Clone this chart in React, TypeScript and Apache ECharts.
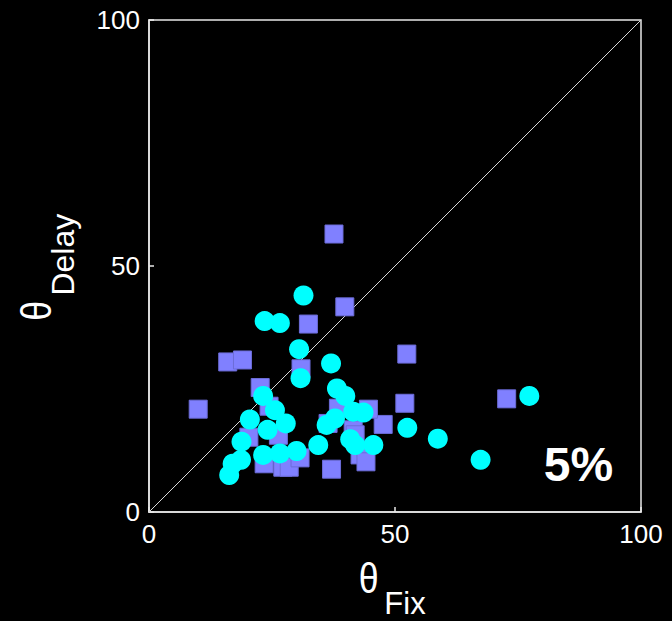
import React, { useEffect, useRef } from "react";
import * as echarts from "echarts";

// Purple squares: (θFix, θDelay)
const squareFix = [37.6, 39.8, 32.4, 52.4, 16.0, 19.0, 30.9, 10.0, 22.6, 72.7, 52.0, 47.6, 44.6, 38.5, 36.4, 41.5, 42.9, 44.1, 37.1, 20.3, 23.4, 27.2, 28.5, 30.7, 41.9, 24.4, 26.3];
const squareDelay = [56.5, 41.7, 38.2, 32.1, 30.5, 30.9, 29.1, 20.9, 25.3, 23.0, 22.1, 17.8, 20.9, 21.1, 18.0, 16.7, 11.6, 10.2, 8.7, 15.2, 9.8, 9.1, 9.1, 11.0, 15.7, 21.5, 15.6];

// Cyan circles: (θFix, θDelay)
const circleFix = [31.4, 23.5, 26.6, 30.5, 37.0, 30.8, 23.2, 25.6, 20.5, 27.8, 24.1, 18.8, 23.2, 26.6, 30.0, 18.7, 17.0, 16.3, 34.4, 38.2, 39.9, 41.5, 43.6, 37.8, 36.1, 40.9, 41.9, 45.6, 52.5, 58.7, 67.4, 77.3];
const circleDelay = [44.0, 38.8, 38.4, 33.1, 30.2, 27.2, 23.6, 20.7, 18.8, 18.0, 16.7, 14.3, 11.6, 11.9, 12.4, 10.6, 9.8, 7.5, 13.6, 25.1, 23.6, 20.4, 20.2, 19.0, 17.7, 14.8, 13.6, 13.6, 17.1, 14.9, 10.6, 23.6];

const axisMin = 0;
const axisMax = 100;
const axisStep = 50;
const diagonal = [[0, 0], [100, 100]];
const percentLabel = "5%";

const FONT = "'Liberation Sans', Arial, sans-serif";

export default function App() {
  const ref = useRef<HTMLDivElement>(null);

  useEffect(() => {
    if (!ref.current) return;
    document.body.style.margin = "0";
    document.body.style.background = "#000";
    const chart = echarts.init(ref.current, undefined, { renderer: "svg" });

    const squares = squareFix.map((x, i) => [x, squareDelay[i]]);
    const circles = circleFix.map((x, i) => [x, circleDelay[i]]);

    const axisCommon = {
      type: "value" as const,
      min: axisMin,
      max: axisMax,
      interval: axisStep,
      splitLine: { show: false },
      axisLine: { show: true, lineStyle: { color: "#e8e8e8", width: 1.5 } },
      axisTick: { show: true, inside: true, length: 5, lineStyle: { color: "#e8e8e8", width: 1.5 } },
      axisLabel: { color: "#ffffff", fontSize: 26, fontFamily: FONT },
    };

    const centered = { align: "center", verticalAlign: "middle", textAlign: "center", textVerticalAlign: "middle" };

    chart.setOption({
      animation: false,
      backgroundColor: "#000000",
      grid: {
        left: 149,
        right: 31,
        top: 20,
        bottom: 109,
        show: true,
        borderColor: "#e8e8e8",
        borderWidth: 1.5,
        backgroundColor: "transparent",
      },
      xAxis: { ...axisCommon, axisLabel: { ...axisCommon.axisLabel, margin: 9 } },
      yAxis: { ...axisCommon, axisLabel: { ...axisCommon.axisLabel, margin: 9 } },
      series: [
        {
          type: "line",
          data: diagonal,
          showSymbol: false,
          symbol: "none",
          lineStyle: { color: "#d8d8d8", width: 1 },
          z: 1,
          silent: true,
        },
        {
          type: "scatter",
          data: squares,
          symbol: "rect",
          symbolSize: 18,
          itemStyle: { color: "#8080ff", borderColor: "#6c6cd8", borderWidth: 1, opacity: 1 },
          z: 2,
        },
        {
          type: "scatter",
          data: circles,
          symbol: "circle",
          symbolSize: 20,
          itemStyle: { color: "#00ffff", opacity: 1 },
          z: 3,
        },
      ],
      graphic: [
        {
          type: "text",
          x: 368.7,
          y: 578.7,
          scaleX: 0.85,
          style: { text: "θ", fill: "#fff", font: `42px ${FONT}`, ...centered },
        },
        {
          type: "text",
          x: 405,
          y: 603,
          style: { text: "Fix", fill: "#fff", font: `31px ${FONT}`, ...centered },
        },
        {
          type: "text",
          x: 36.3,
          y: 310.7,
          rotation: Math.PI / 2,
          scaleX: 0.85,
          style: { text: "θ", fill: "#fff", font: `42px ${FONT}`, ...centered },
        },
        {
          type: "text",
          x: 63,
          y: 254.7,
          rotation: Math.PI / 2,
          style: { text: "Delay", fill: "#fff", font: `32px ${FONT}`, ...centered },
        },
        {
          type: "text",
          x: 578.5,
          y: 464,
          z: 10,
          style: { text: percentLabel, fill: "#fff", font: `bold 48px ${FONT}`, ...centered },
        },
      ],
    });

    return () => {
      chart.dispose();
    };
  }, []);

  return (
    <div
      ref={ref}
      style={{ position: "absolute", left: 0, top: 0, width: 672, height: 621, background: "#000" }}
    />
  );
}
